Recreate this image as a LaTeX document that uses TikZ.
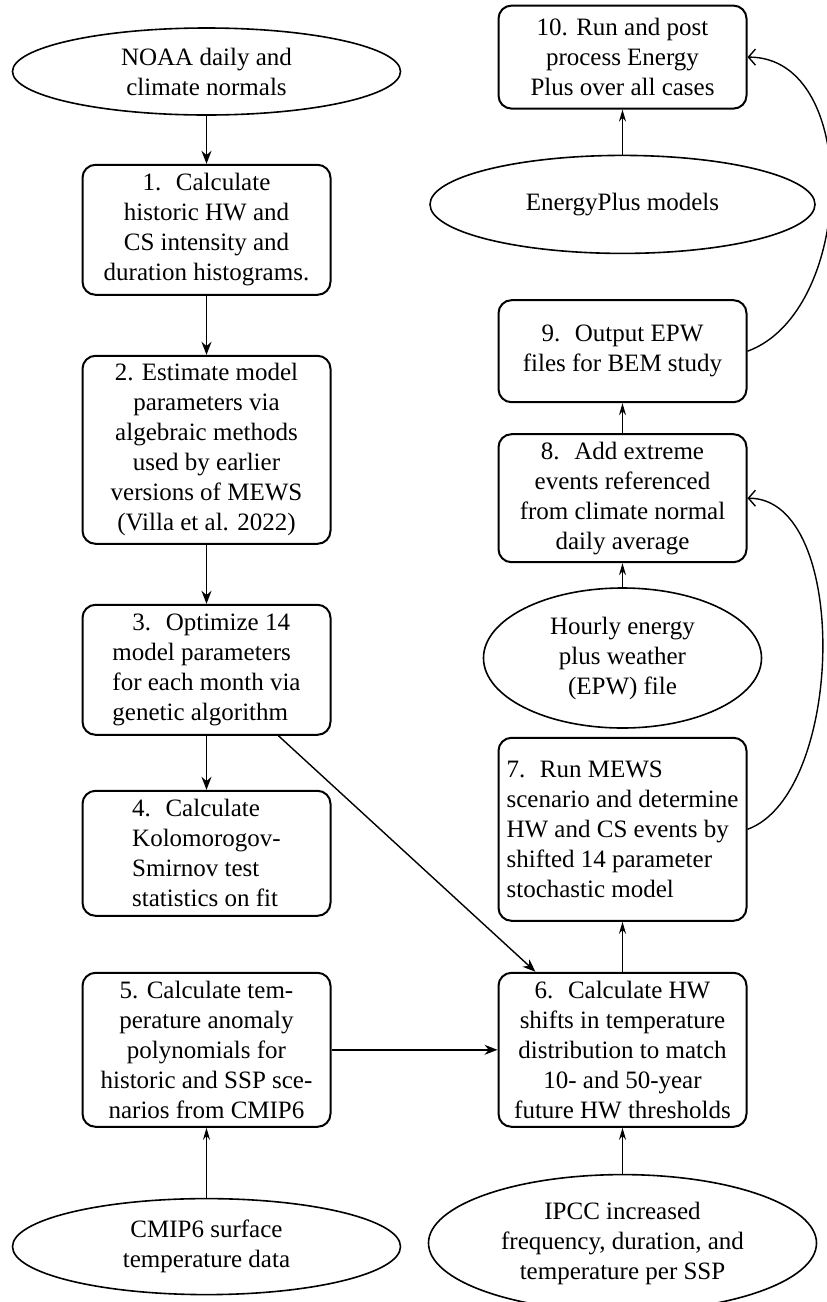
\documentclass[tikz,border=0pt]{standalone}
\usepackage{fontspec}
\setmainfont{Liberation Serif}
\usepackage{tikz}
\usetikzlibrary{positioning,shapes.geometric,arrows.meta}

\tikzset{
  proc/.style={draw, rounded corners=6.5pt, line width=1pt, minimum width=124pt,
    inner sep=1.5pt, font=\rmfamily\fontsize{12.5}{15}\selectfont, align=center},
  data/.style={draw, ellipse, line width=0.8pt, inner sep=0pt,
    font=\rmfamily\fontsize{12.5}{15}\selectfont, align=center},
  flow/.style={line width=0.7pt, -{Stealth[length=6.5pt,width=5pt]}},
  feed/.style={line width=0.7pt, -{Stealth[length=6pt,width=3.5pt]}},
  fback/.style={line width=0.7pt, -{Straight Barb[length=3.5pt,width=8pt]}},
}

\begin{document}
\begin{tikzpicture}
  \useasboundingbox (0,0) rectangle (413pt,-651pt);
  % Define nodes
  \node[data, minimum width=194pt, minimum height=43.5pt] (noaa) at (103.25pt,-35.75pt) {NOAA daily and\\climate normals};
  \node[proc, below=24pt of noaa, minimum height=65pt] (s1) {1.~ Calculate\\historic HW and\\CS intensity and\\duration histograms.};
  \node[proc, below=29.5pt of s1, minimum height=94pt] (s2) {2. Estimate model\\parameters via\\algebraic methods\\used by earlier\\versions of MEWS\\(Villa et al. 2022)};
  \node[proc, below=29.5pt of s2, minimum height=65pt, align=left] (s3) {\hspace*{10pt}3.~ Optimize 14\\model parameters\\for each month via\\genetic algorithm};
  \node[proc, below=27pt of s3, minimum height=62.5pt, align=left] (s4) {4.~ Calculate\\Kolomorogov-\\Smirnov test\\statistics on fit};
  \node[proc, below=27.5pt of s4, minimum height=77pt] (s5) {5. Calculate tem-\\perature anomaly\\polynomials for\\historic and SSP sce-\\narios from CMIP6};
  \node[data, below=35pt of s5, minimum width=194pt, minimum height=48pt] (cmip) {CMIP6 surface\\temperature data};
  \node[proc, right=83pt of s5, minimum height=77pt] (s6) {6.~ Calculate HW\\shifts in temperature\\distribution to match\\10- and 50-year\\future HW thresholds};
  \node[data, below=23pt of s6, minimum width=194pt, minimum height=68.5pt] (ipcc) {IPCC increased\\frequency, duration, and\\temperature per SSP};
  \node[proc, above=25pt of s6, minimum height=91.5pt, align=left] (s7) {7.~ Run MEWS\\scenario and determine\\HW and CS events by\\shifted 14 parameter\\stochastic model};
  \node[data, above=4pt of s7, minimum width=139pt, minimum height=70pt] (hrly) {Hourly energy\\plus weather\\(EPW) file};
  \node[proc, above=12pt of hrly, minimum height=64pt] (s8) {8.~ Add extreme\\events referenced\\from climate normal\\daily average};
  \node[proc, above=15pt of s8, minimum height=51pt] (s9) {9.~ Output EPW\\files for BEM study};
  \node[data, above=22.5pt of s9, minimum width=192.5pt, minimum height=49pt] (epm) {EnergyPlus models};
  \node[proc, above=22.5pt of epm, minimum height=51.5pt] (s10) {10. Run and post\\process Energy\\Plus over all cases};

  % Connect the nodes
  \draw[flow] (noaa) -- (s1);
  \draw[flow] (s1) -- (s2);
  \draw[flow] (s2) -- (s3);
  \draw[flow] (s3) -- (s4);
  \draw[flow] ([xshift=36pt]s3.south) -- ([xshift=-43.5pt]s6.north);
  \draw[flow] (s5) -- (s6);
  \draw[feed] (cmip) -- (s5);
  \draw[feed] (ipcc) -- (s6);
  \draw[feed] (s6) -- (s7);
  \draw[feed] (hrly) -- (s8);
  \draw[feed] (s8) -- (s9);
  \draw[feed] (epm) -- (s10);

  % Feedback loops
  \draw[fback] (s7.east) to[out=20, in=0, looseness=0.8] (s8.east);
  \draw[fback] (s9.east) to[out=20, in=0] (s10.east);
\end{tikzpicture}
\end{document}
